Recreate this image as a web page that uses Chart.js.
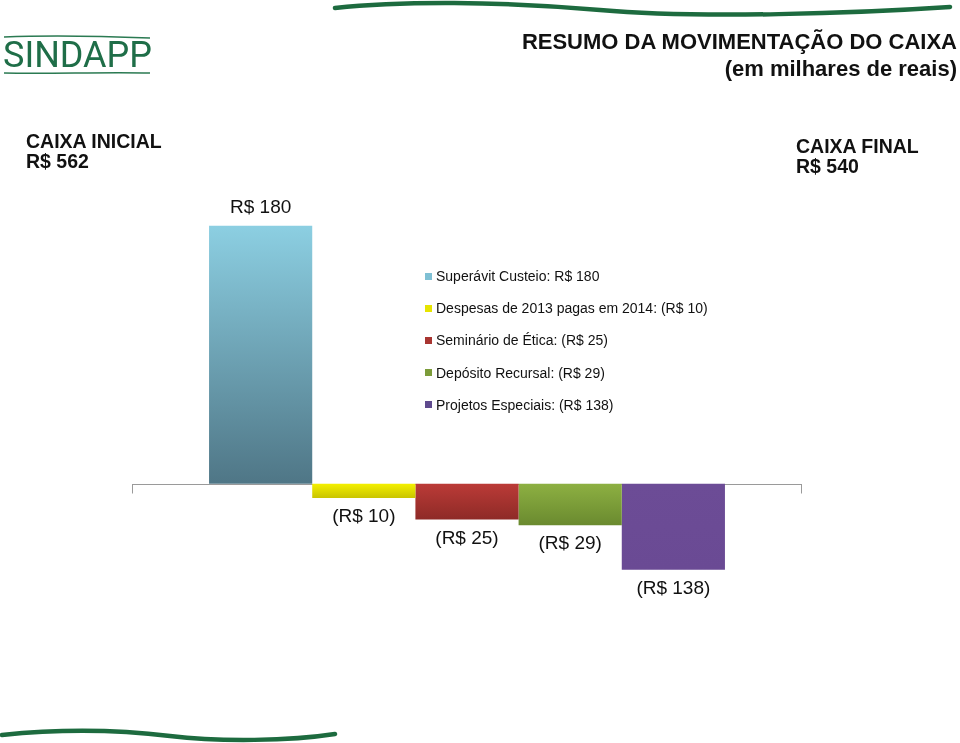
<!DOCTYPE html>
<html>
<head>
<meta charset="utf-8">
<script src="https://cdn.jsdelivr.net/npm/chart.js@4/dist/chart.umd.min.js"></script>
<style>
  html, body { margin: 0; padding: 0; background: #fff; }
  body { width: 960px; height: 743px; position: relative; overflow: hidden; font-family: "Liberation Sans", Arial, sans-serif; color: #111; }
  #wrap { position: absolute; left: 0; top: 0; width: 960px; height: 743px; }
  .abs { position: absolute; white-space: nowrap; }
  .title { right: 3px; font-weight: bold; font-size: 22px; line-height: 26px; text-align: right; }
  .caixa { font-weight: bold; font-size: 19.5px; line-height: 20px; }
  #logo { left: 3px; top: 37px; height: 36px; color: #1f6e48; font-family: Roboto, "Open Sans", sans-serif; font-weight: 400; font-size: 36px; line-height: 36px; letter-spacing: 0px; }
  #legend { left: 425px; top: 260px; font-size: 14px; }
  #legend div { height: 32.2px; line-height: 20px; display: flex; align-items: center; }
  #legend span.box { display: inline-block; width: 7px; height: 7px; margin-right: 4px; }
</style>
</head>
<body>
<div id="wrap"><canvas id="chart"></canvas></div>

<svg class="abs" style="left:0;top:0" width="960" height="743">
  <path d="M335,8 C400,1 500,1 600,10 S860,13 950,7" fill="none" stroke="#1d6b3f" stroke-width="4.5" stroke-linecap="round"/>
  <path d="M2,735 C60,729 120,730 170,736 S290,741 335,734" fill="none" stroke="#1d6b3f" stroke-width="4.5" stroke-linecap="round"/>
  <path d="M4,37 C50,35 100,36 150,38" fill="none" stroke="#2b7a52" stroke-width="1.5"/>
  <path d="M4,73 C50,74 100,72 150,73" fill="none" stroke="#2b7a52" stroke-width="1.5"/>
</svg>

<div id="logo" class="abs">SINDAPP</div>
<div class="abs title" style="top:29px">RESUMO DA MOVIMENTAÇÃO DO CAIXA</div>
<div class="abs title" style="top:56px">(em milhares de reais)</div>
<div class="abs caixa" style="left:26px;top:131px">CAIXA INICIAL<br>R$ 562</div>
<div class="abs caixa" style="left:796px;top:136px">CAIXA FINAL<br>R$ 540</div>
<div id="legend" class="abs"></div>

<script>
// one bar per item (the purple bar is drawn much shorter than its R$ 138 label)
const items = ['Superávit Custeio: R$ 180', 'Despesas de 2013 pagas em 2014: (R$ 10)', 'Seminário de Ética: (R$ 25)', 'Depósito Recursal: (R$ 29)', 'Projetos Especiais: (R$ 138)'];
const barValues = [180, -10, -25, -29, -60];
const valueLabels = ['R$ 180', '(R$ 10)', '(R$ 25)', '(R$ 29)', '(R$ 138)'];
const topColors = ['#8ccfe2', '#f4f000', '#bb3b37', '#8db042', '#6c4c96'];
const bottomColors = ['#4f7686', '#c9c400', '#8e2a27', '#6a8a2f', '#6a4a94'];
const legendColors = ['#7fc0d4', '#e6e400', '#a83531', '#7c9c3a', '#5f4a8e'];

function gradient(i) {
    return function (ctx) {
        const chart = ctx.chart;
        if (!chart.chartArea) return topColors[i];
        const y = chart.scales.y;
        const y0 = y.getPixelForValue(0);
        const y1 = y.getPixelForValue(barValues[i]);
        const top = Math.min(y0, y1), bottom = Math.max(y0, y1);
        const g = chart.ctx.createLinearGradient(0, top, 0, bottom);
        g.addColorStop(0, topColors[i]);
        g.addColorStop(1, bottomColors[i]);
        return g;
    };
}

const zeroLine = {
    id: 'zeroLine',
    beforeDatasetsDraw(chart) {
        const { ctx, chartArea } = chart;
        const y = Math.round(chart.scales.y.getPixelForValue(0)) + 0.5;
        ctx.save();
        ctx.strokeStyle = '#9a9a9a';
        ctx.lineWidth = 1;
        ctx.beginPath();
        ctx.moveTo(chartArea.left, y);
        ctx.lineTo(chartArea.right, y);
        ctx.moveTo(chartArea.left + 0.5, y);
        ctx.lineTo(chartArea.left + 0.5, y + 9);
        ctx.moveTo(chartArea.right - 0.5, y);
        ctx.lineTo(chartArea.right - 0.5, y + 9);
        ctx.stroke();
        ctx.restore();
    }
};

const barLabels = {
    id: 'barLabels',
    afterDatasetsDraw(chart) {
        const ctx = chart.ctx;
        ctx.save();
        ctx.font = '19px "Liberation Sans", Arial, sans-serif';
        ctx.fillStyle = '#111';
        ctx.textAlign = 'center';
        ctx.textBaseline = 'middle';
        chart.data.datasets.forEach((ds, i) => {
            const bar = chart.getDatasetMeta(i).data[0];
            const up = barValues[i] >= 0;
            ctx.fillText(valueLabels[i], bar.x, up ? bar.y - 18 : bar.y + 19);
        });
        ctx.restore();
    }
};

const datasets = items.map((name, i) => ({
    label: name,
    data: [barValues[i]],
    backgroundColor: gradient(i),
    borderWidth: 0,
    barPercentage: 1,
    categoryPercentage: 0.77
}));

const chart = new Chart(document.getElementById('chart'), {
    type: 'bar',
    data: { labels: [''], datasets: datasets },
    options: {
        responsive: true,
        maintainAspectRatio: false,
        animation: false,
        layout: { padding: { left: 132, right: 158, top: 197, bottom: 116 } },
        scales: {
            x: { display: false },
            y: { display: false, min: -100, max: 200 }
        },
        plugins: {
            legend: { display: false },
            tooltip: { enabled: false }
        }
    },
    plugins: [zeroLine, barLabels]
});

// legend from the chart's datasets
const legendEl = document.getElementById('legend');
chart.data.datasets.forEach((ds, i) => {
    const row = document.createElement('div');
    const box = document.createElement('span');
    box.className = 'box';
    box.style.background = legendColors[i];
    row.appendChild(box);
    row.appendChild(document.createTextNode(ds.label));
    legendEl.appendChild(row);
});
</script>
</body>
</html>
